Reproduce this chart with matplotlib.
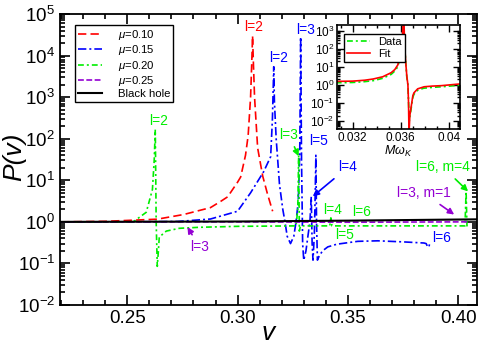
import matplotlib
matplotlib.use("Agg")
import matplotlib.pyplot as plt
from matplotlib.ticker import FixedLocator, MultipleLocator, LogLocator, NullFormatter
import numpy as np

plt.rcParams['font.family'] = ['Liberation Sans', 'DejaVu Sans']
plt.rcParams['mathtext.fontset'] = 'custom'
plt.rcParams['mathtext.rm'] = 'Liberation Sans'
plt.rcParams['mathtext.it'] = 'Liberation Sans:italic'
plt.rcParams['mathtext.bf'] = 'Liberation Sans:bold'

# ---------------- data ----------------
red_v = [0.22, 0.24, 0.2636, 0.2755, 0.2877, 0.2923, 0.2955, 0.300, 0.3014, 0.3036,
         0.3048, 0.3059, 0.3064, 0.3068, 0.3072, 0.3077, 0.3091, 0.3114, 0.3136, 0.3159]
red_P = [1.0, 1.03, 1.16, 1.5, 2.2, 3.1, 4.0, 9.0, 12.0, 40.0,
         120.0, 1000.0, 6000.0, 3.0e4, 6000.0, 1000.0, 60.0, 12.6, 4.6, 1.8]

blue_v = [0.22, 0.25, 0.2727, 0.2877, 0.300, 0.3059, 0.3118, 0.3150, 0.3158, 0.3162,
          0.3164, 0.3167, 0.3175, 0.3190, 0.3205, 0.3215, 0.3225, 0.3240, 0.3255, 0.3265,
          0.3275, 0.3282, 0.3286, 0.3290, 0.3295, 0.3300, 0.3310, 0.3320, 0.3328, 0.3334,
          0.3338, 0.3342, 0.3348, 0.3352, 0.3355, 0.3358, 0.3362, 0.3370, 0.3385, 0.3409,
          0.345, 0.3545, 0.3636, 0.375, 0.3845, 0.3855, 0.3862, 0.3868, 0.3871]
blue_P = [1.0, 1.0, 1.02, 1.17, 1.8, 5.0, 16.0, 37.0, 300.0, 2000.0,
          5400.0, 800.0, 100.0, 8.0, 2.0, 1.0, 0.45, 0.30, 0.45, 1.0,
          3.0, 50.0, 2.8e4, 30.0, 0.3, 0.12, 0.2, 0.5, 1.0, 4.0,
          0.3, 0.12, 0.5, 5.0, 40.0, 1.0, 0.12, 0.15, 0.2, 0.25,
          0.29, 0.34, 0.35, 0.33, 0.31, 0.30, 0.25, 0.25, 0.32]

green_v = [0.22, 0.25, 0.2527, 0.2586, 0.2614, 0.2622, 0.2627, 0.2631, 0.2636, 0.2641,
           0.2645, 0.2677, 0.2736, 0.2827, 0.300, 0.3265, 0.3273, 0.3277, 0.3280, 0.3285,
           0.3418, 0.3423, 0.3428, 0.3555, 0.4025, 0.4031, 0.4036, 0.4040, 0.4050]
green_P = [1.0, 1.0, 1.0, 1.7, 6.0, 30.0, 166.0, 1.0, 0.085, 0.2,
           0.43, 0.6, 0.7, 0.74, 0.78, 0.8, 2.0, 40.0, 0.6, 0.8,
           0.8, 1.25, 0.8, 0.8, 0.8, 0.8, 5.4, 0.8, 0.8]

purple_v = [0.22, 0.30, 0.35, 0.405]
purple_P = [1.0, 1.0, 0.98, 1.0]

bh_v = [0.22, 0.30, 0.35, 0.4086]
bh_P = [1.0, 1.02, 1.07, 1.15]

inset_x_fit = [0.0306, 0.0320, 0.0330, 0.0337, 0.0345, 0.0352, 0.0355, 0.03575, 0.0359, 0.0360,
               0.0361, 0.03615, 0.0362, 0.03625, 0.0363, 0.0364, 0.0365, 0.03659, 0.03664, 0.03668,
               0.03675, 0.03684, 0.0370, 0.03709, 0.0374, 0.03794, 0.0386, 0.03937, 0.0409]
inset_P_fit = [1.55, 1.6, 1.8, 2.1, 2.8, 4.7, 7.0, 12.6, 30.0, 80.0,
               250.0, 700.0, 3000.0, 1.0e4, 300.0, 20.0, 3.0, 1.0, 0.1, 0.002,
               0.02, 0.05, 0.25, 0.36, 0.6, 0.78, 0.85, 0.9, 1.12]
inset_x_data = [0.0306, 0.0320, 0.0330, 0.0337, 0.0345, 0.0352, 0.0355, 0.03575, 0.0359, 0.0360,
                0.0361, 0.03615, 0.0362, 0.03625, 0.0363, 0.0365, 0.03659, 0.0367, 0.0370, 0.03709,
                0.0374, 0.0379, 0.0386, 0.0394, 0.0409]
inset_P_data = [1.3, 1.35, 1.5, 1.7, 2.3, 3.8, 5.8, 10.0, 25.0, 60.0,
                200.0, 500.0, 2000.0, 8000.0, 200.0, 2.5, 1.0, 0.01, 0.2, 0.3,
                0.5, 0.65, 0.72, 0.78, 0.95]

x_ticks = [0.25, 0.30, 0.35, 0.40]
x_ticklabels = ['0.25', '0.30', '0.35', '0.40']
inset_x_ticks = [0.032, 0.036, 0.040]
inset_x_ticklabels = ['0.032', '0.036', '0.04']

legend_labels = [r'$\mu$=0.10', r'$\mu$=0.15', r'$\mu$=0.20', r'$\mu$=0.25', 'Black hole']

RED = '#ff0000'
BLUE = '#0000ff'
GREEN = '#00ee00'
PURPLE = '#9400d3'

# ---------------- figure ----------------
fig = plt.figure(figsize=(4.8, 3.46), dpi=100)
ax = fig.add_axes([0.125, 0.1185, 0.869, 0.841])

lw = 1.2
ax.plot(red_v, red_P, color=RED, lw=lw, dashes=(5, 2.5), label=legend_labels[0])
ax.plot(blue_v, blue_P, color=BLUE, lw=lw, dashes=(5, 1.8, 1.2, 1.8), label=legend_labels[1])
ax.plot(green_v, green_P, color=GREEN, lw=lw, dashes=(3.5, 1.8, 1.2, 1.8), label=legend_labels[2])
ax.plot(purple_v, purple_P, color=PURPLE, lw=lw, dashes=(3.5, 1.5), label=legend_labels[3])
ax.plot(bh_v, bh_P, color='black', lw=1.5, label=legend_labels[4])

ax.set_yscale('log')
ax.set_xlim(0.2195, 0.4086)
ax.set_ylim(1e-2, 1e5)
ax.xaxis.set_major_locator(FixedLocator(x_ticks))
ax.set_xticklabels(x_ticklabels)
ax.xaxis.set_minor_locator(MultipleLocator(0.01))
ax.yaxis.set_major_locator(LogLocator(base=10, numticks=20))
ax.yaxis.set_minor_locator(LogLocator(base=10, subs=np.arange(2, 10), numticks=20))
ax.yaxis.set_minor_formatter(NullFormatter())
ax.tick_params(which='both', direction='in', top=True, right=True, labelsize=13.5, width=1.2)
ax.tick_params(which='major', length=7)
ax.tick_params(which='minor', length=3.5)
for s in ax.spines.values():
    s.set_linewidth(1.3)

ax.set_ylabel('P(v)', fontsize=19, style='italic')
ax.yaxis.label.set_va('center')
ax.yaxis.set_label_coords(-0.11, 0.51)
ax.set_xlabel('v', fontsize=19, style='italic')
ax.xaxis.label.set_va('center')
ax.xaxis.set_label_coords(0.5, -0.097)

leg = ax.legend(loc='upper left', bbox_to_anchor=(0.036, 0.962), borderaxespad=0,
                fontsize=8.2, handlelength=2.1, labelspacing=0.12, handletextpad=1.4,
                fancybox=False, framealpha=1, edgecolor='black', borderpad=0.25)
leg.get_frame().set_linewidth(1.0)

fs = 10
def label(txt, xy, color):
    ax.text(xy[0], xy[1], txt, color=color, fontsize=fs, ha='center', va='center')

def arrow(txt, xytext, xy, color):
    ax.annotate(txt, xy=xy, xytext=xytext, color=color, fontsize=fs, ha='center', va='center',
                arrowprops=dict(arrowstyle='-|>', color=color, lw=1.2, mutation_scale=9,
                                shrinkA=2, shrinkB=0))

label('l=2', (0.3073, 4.9e4), RED)
label('l=2', (0.3186, 8.9e3), BLUE)
label('l=3', (0.3309, 4.2e4), BLUE)
label('l=2', (0.2641, 270), GREEN)
arrow('l=3', (0.3232, 126), (0.3277, 38), GREEN)
label('l=5', (0.3368, 86), BLUE)
arrow('l=4', (0.3500, 20.6), (0.3341, 4.1), BLUE)
arrow('l=6, m=4', (0.3932, 20.6), (0.4045, 5.4), GREEN)
arrow('l=3, m=1', (0.3845, 4.9), (0.3982, 1.5), PURPLE)
label('l=4', (0.3432, 1.9), GREEN)
label('l=6', (0.3564, 1.7), GREEN)
label('l=5', (0.3486, 0.48), GREEN)
label('l=6', (0.3927, 0.41), BLUE)
arrow('l=3', (0.2827, 0.25), (0.2773, 0.75), PURPLE)

# ---------------- inset ----------------
ins = fig.add_axes([0.702, 0.627, 0.256, 0.30])
ins.plot(inset_x_data, inset_P_data, color=GREEN, lw=1.2, dashes=(3.5, 1.8, 1.2, 1.8), label='Data')
ins.plot(inset_x_fit, inset_P_fit, color=RED, lw=1.2, label='Fit')
ins.set_yscale('log')
ins.set_xlim(0.0307, 0.0409)
ins.set_ylim(10**-2.45, 10**3.3)
ins.xaxis.set_major_locator(FixedLocator(inset_x_ticks))
ins.set_xticklabels(inset_x_ticklabels)
ins.xaxis.set_minor_locator(MultipleLocator(0.001))
ins.yaxis.set_major_locator(LogLocator(base=10, numticks=20))
ins.yaxis.set_minor_locator(LogLocator(base=10, subs=np.arange(2, 10), numticks=20))
ins.yaxis.set_minor_formatter(NullFormatter())
ins.tick_params(which='both', direction='in', top=True, right=True, labelsize=8.5, width=1.0, pad=2)
ins.tick_params(which='major', length=5)
ins.tick_params(which='minor', length=2.5)
for s in ins.spines.values():
    s.set_linewidth(1.2)
ins.set_xlabel(r'$M\omega_K$', fontsize=9, labelpad=0)
il = ins.legend(loc='upper left', bbox_to_anchor=(0.057, 0.92), borderaxespad=0, fontsize=8,
                handlelength=2.0, labelspacing=0.15, handletextpad=0.8, fancybox=False,
                framealpha=1, edgecolor='black', borderpad=0.3)
il.get_frame().set_linewidth(1.0)

fig.savefig('out.png', dpi=100)
